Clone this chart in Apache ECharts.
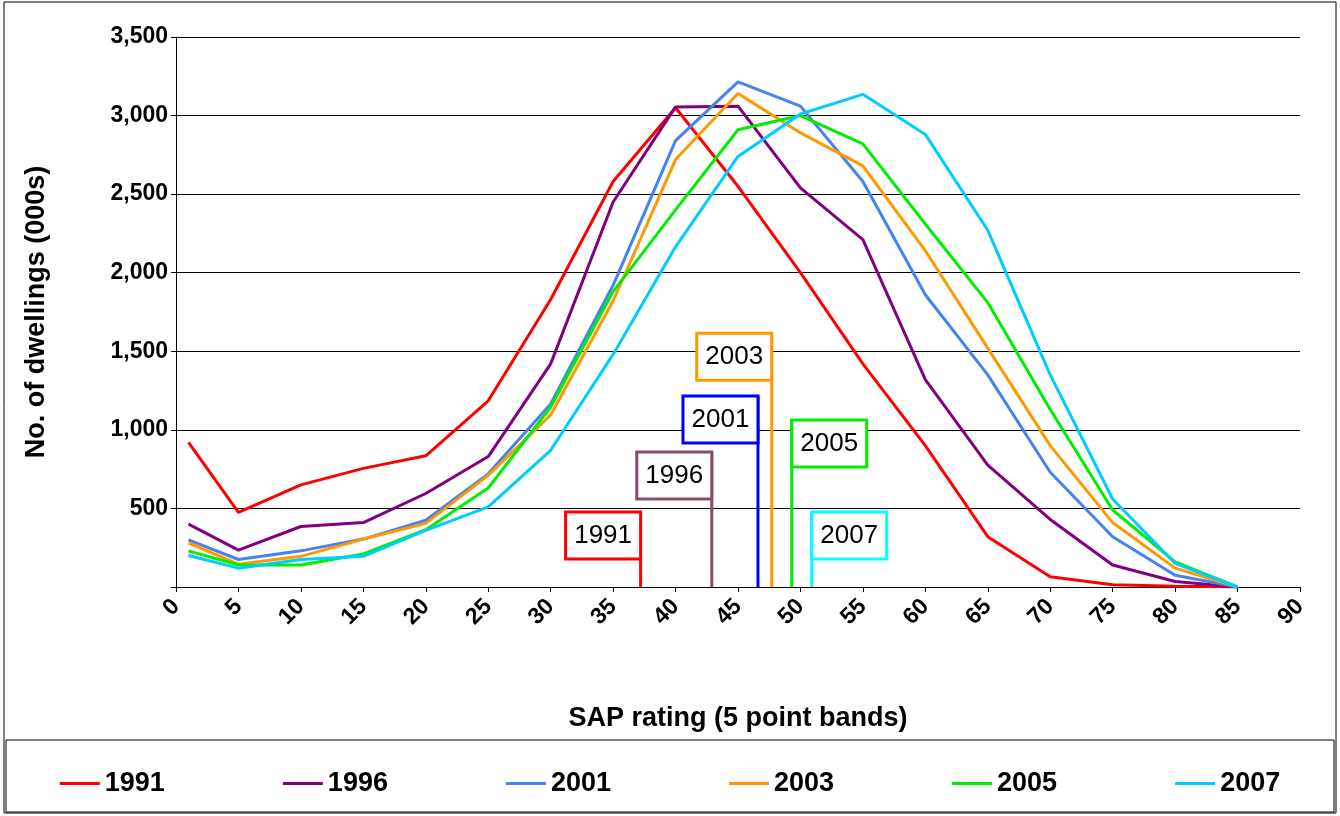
<!DOCTYPE html>
<html><head><meta charset="utf-8">
<script src="https://cdn.jsdelivr.net/npm/echarts@6/dist/echarts.min.js"></script>
<style>body{margin:0;background:#fff}#c{width:1340px;height:816px}</style>
</head><body><div id="c"></div>
<script>
var sapBands = [1, 5, 10, 15, 20, 25, 30, 35, 40, 45, 50, 55, 60, 65, 70, 75, 80, 85];
var years = ['1991', '1996', '2001', '2003', '2005', '2007'];
var colors = ['#ff0000', '#800080', '#4682f0', '#ff9900', '#00ee00', '#00ccff'];
var v1991 = [920, 475, 650, 755, 835, 1185, 1830, 2580, 3050, 2550, 2000, 1420, 900, 320, 65, 15, 5, 0];
var v1996 = [400, 235, 385, 410, 595, 830, 1420, 2450, 3055, 3060, 2540, 2210, 1320, 775, 430, 140, 35, 0];
var v2001 = [300, 175, 230, 305, 425, 720, 1165, 1920, 2840, 3215, 3060, 2580, 1860, 1350, 730, 320, 75, 0];
var v2003 = [280, 145, 195, 305, 405, 710, 1095, 1820, 2720, 3140, 2890, 2680, 2140, 1520, 900, 410, 120, 0];
var v2005 = [230, 140, 140, 210, 365, 630, 1145, 1880, 2400, 2910, 3000, 2820, 2310, 1810, 1130, 490, 160, 0];
var v2007 = [200, 120, 175, 195, 360, 510, 870, 1480, 2165, 2740, 3010, 3135, 2880, 2270, 1350, 560, 150, 0];
var allValues = [v1991, v1996, v2001, v2003, v2005, v2007];
// mean SAP markers: x position, top value, box side
var meanSap = [37.2, 42.9, 46.6, 47.7, 49.3, 50.9];
var meanTop = [477, 859, 1215, 1615, 1062, 477];
var boxSide = ['left', 'left', 'left', 'left', 'right', 'right'];
var boxBorder = ['#ff0000', '#8b4a6b', '#0000ff', '#ff9900', '#00ee00', '#00ffff'];

var chart = echarts.init(document.getElementById('c'));
var font = 'Liberation Sans';
chart.setOption({
  animation: false,
  grid: {left: 176, right: 40, top: 37, bottom: 229},
  legend: {
    bottom: 14, left: 'center', itemGap: 118, itemWidth: 40,
    icon: 'path://M0,0 L40,0 L40,3 L0,3 Z',
    textStyle: {fontFamily: font, fontWeight: 'bold', fontSize: 27, color: '#000'},
    data: years
  },
  xAxis: {
    type: 'value', min: 0, max: 90, interval: 5,
    name: 'SAP rating (5 point bands)', nameLocation: 'middle', nameGap: 118,
    nameTextStyle: {fontFamily: font, fontWeight: 'bold', fontSize: 27, color: '#000'},
    axisLine: {lineStyle: {color: '#000'}},
    axisTick: {show: true, lineStyle: {color: '#000'}},
    splitLine: {show: false},
    axisLabel: {rotate: 45, margin: 16, fontFamily: font, fontWeight: 'bold', fontSize: 23, color: '#000'}
  },
  yAxis: {
    type: 'value', min: 0, max: 3500, interval: 500,
    name: 'No. of dwellings (000s)', nameLocation: 'middle', nameGap: 126,
    nameTextStyle: {fontFamily: font, fontWeight: 'bold', fontSize: 27, color: '#000'},
    axisLine: {show: true, lineStyle: {color: '#000'}},
    axisTick: {show: true, lineStyle: {color: '#000'}},
    splitLine: {lineStyle: {color: '#000', width: 1}},
    axisLabel: {fontFamily: font, fontWeight: 'bold', fontSize: 23, color: '#000',
      formatter: function (v) { return v === 0 ? '' : v.toLocaleString('en-US'); }}
  },
  series: years.map(function (y, i) {
    return {
      name: y, type: 'line', symbol: 'none', color: colors[i],
      lineStyle: {width: 3},
      data: sapBands.map(function (x, j) { return [x, allValues[i][j]]; })
    };
  })
});

var g = [
  {type: 'rect', shape: {x: 4, y: 2, width: 1332, height: 811}, style: {fill: 'none', stroke: '#000', lineWidth: 1}, silent: true},
  {type: 'rect', shape: {x: 6, y: 740, width: 1328, height: 72}, style: {fill: 'none', stroke: '#000', lineWidth: 1}, silent: true}
];
years.forEach(function (y, i) {
  var p0 = chart.convertToPixel({gridIndex: 0}, [meanSap[i], 0]);
  var p1 = chart.convertToPixel({gridIndex: 0}, [meanSap[i], meanTop[i]]);
  var w = 75, h = 47;
  var bx = boxSide[i] === 'left' ? p1[0] - w : p1[0];
  g.push({type: 'line', shape: {x1: p0[0], y1: p0[1], x2: p1[0], y2: p1[1]}, style: {stroke: boxBorder[i], lineWidth: 3}});
  g.push({type: 'rect', shape: {x: bx, y: p1[1], width: w, height: h}, style: {fill: '#fff', stroke: boxBorder[i], lineWidth: 3}});
  g.push({type: 'text', x: bx + w / 2, y: p1[1] + h / 2, style: {text: y, fill: '#000', font: '26px "Liberation Sans Narrow", "Liberation Sans"', textAlign: 'center', textVerticalAlign: 'middle'}});
});
chart.setOption({graphic: g});
</script></body></html>
